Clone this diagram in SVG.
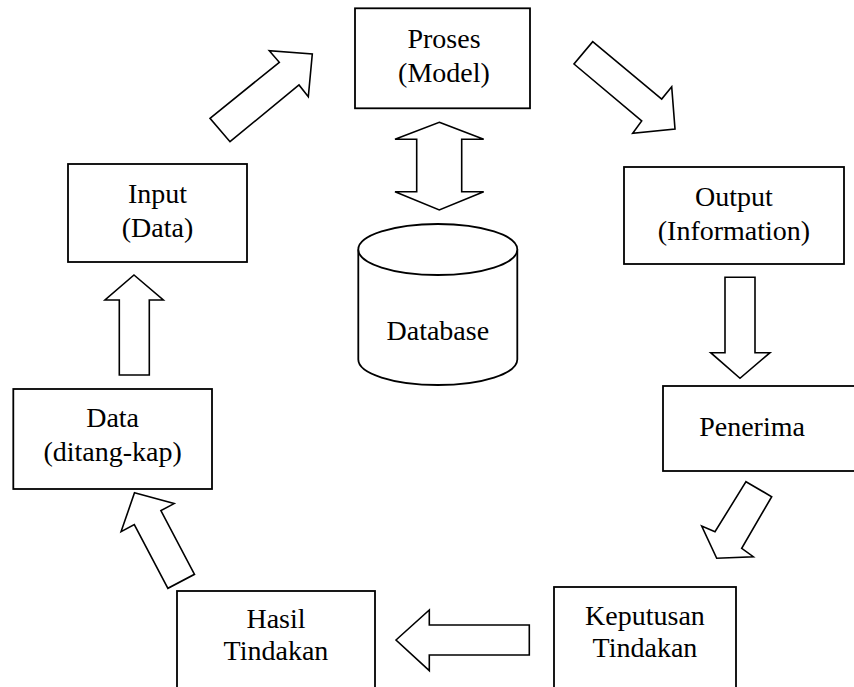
<svg xmlns="http://www.w3.org/2000/svg" width="854" height="687" viewBox="0 0 854 687">
<style>
.box{fill:#fff;stroke:#000;stroke-width:1.8}
.arr{fill:#fff;stroke:#000;stroke-width:1.6;stroke-linejoin:miter}
text{font-family:"Liberation Serif","Times New Roman","DejaVu Serif",serif;font-size:28px;fill:#000;text-anchor:middle}
</style>
<rect width="854" height="687" fill="#fff"/>
<g id="connectors">
<polygon class="arr" points="210,118.3 279.3,62.3 269.3,50.7 312.3,54 308.3,96.7 299,85 230,141.7"/>
<polygon class="arr" points="592.7,41.7 661.7,99 671.7,86.7 675,129 632.7,133.3 641.7,121 574,64"/>
<polygon class="arr" points="439.3,122.3 483.7,139.3 461.7,139.3 461.7,191.7 483.7,191.7 439.3,210 395,191.7 416.7,191.7 416.7,139.3 395,139.3"/>
<polygon class="arr" points="725,277.3 755,277.3 755,352.7 770,352.7 740,378.3 710.7,352.7 725,352.7"/>
<polygon class="arr" points="746,481.7 771.7,496.7 741.7,548.3 753.3,556.7 716.7,558.3 701.7,526 715,531.7"/>
<polygon class="arr" points="396,640 429.3,610 429.3,625 529.3,625 529.3,655 429.3,655 429.3,670.7"/>
<polygon class="arr" points="134.5,492.8 174.1,503.6 160.9,510.6 194.5,574.3 167.9,588.3 134.3,524.6 121.1,531.6"/>
<polygon class="arr" points="134,275 163.3,300 149.3,300 149.3,375 119.3,375 119.3,300 105,300"/>
</g>
<g id="proses">
<rect class="box" x="355" y="8.3" width="175" height="100"/>
<text x="444" y="47.5">Proses</text>
<text x="444" y="81.5">(Model)</text>
</g>
<g id="input">
<rect class="box" x="68" y="164" width="179" height="98"/>
<text x="157.5" y="203">Input</text>
<text x="157.5" y="237">(Data)</text>
</g>
<g id="output">
<rect class="box" x="624" y="167" width="220" height="97"/>
<text x="734" y="206">Output</text>
<text x="734" y="240">(Information)</text>
</g>
<g id="database">
<path class="box" d="M358.3,249.5 L358.3,359.5 A79.5,25.5 0 0 0 517.3,359.5 L517.3,249.5"/>
<ellipse class="box" cx="437.8" cy="249.5" rx="79.5" ry="25.5"/>
<text x="437.8" y="340">Database</text>
</g>
<g id="penerima">
<rect class="box" x="663" y="386" width="200" height="85"/>
<text x="752" y="436">Penerima</text>
</g>
<g id="data">
<rect class="box" x="13.3" y="389" width="198.7" height="100"/>
<text x="112.6" y="427">Data</text>
<text x="112.6" y="461">(ditang-kap)</text>
</g>
<g id="keputusan">
<rect class="box" x="554" y="587" width="182" height="110"/>
<text x="645" y="625">Keputusan</text>
<text x="645" y="657">Tindakan</text>
</g>
<g id="hasil">
<rect class="box" x="177" y="591" width="198" height="110"/>
<text x="276" y="628">Hasil</text>
<text x="276" y="660">Tindakan</text>
</g>
</svg>
